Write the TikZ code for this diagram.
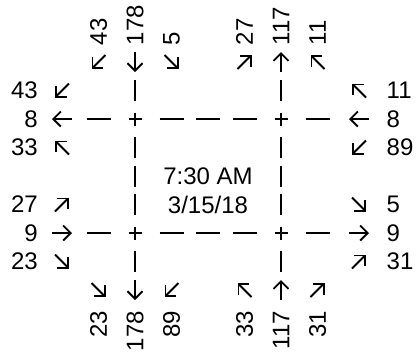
\documentclass[tikz,border=0pt]{standalone}
\usepackage{fontspec}
\setmainfont{Liberation Sans}
\usetikzlibrary{arrows.meta}
\newcommand{\turn}[4]{\draw[mv] ({#1-(#3)},{#2-(#4)}) -- ({#1+(#3)},{#2+(#4)});}

\begin{document}
\begin{tikzpicture}[x=1pt, y=-1pt,
  every node/.style={font=\fontsize{24}{28}\selectfont, inner sep=0pt},
  road/.style={line width=1.9pt},
  mv/.style={line width=1.9pt, -{Straight Barb[length=7.5pt, width=15pt]}}]
  \useasboundingbox (0,0) rectangle (416,354);
  \foreach \y in {119, 233} \foreach \x in {98.5, 171.5, 208, 244.5, 317.5}
    \draw[road] (\x-12,\y) -- (\x+12,\y);
  \foreach \x in {135, 281} \foreach \y in {90.5, 147.5, 176, 204.5, 261.5}
    \draw[road] (\x,\y-10.5) -- (\x,\y+10.5);
  \foreach \x in {135, 281} \foreach \y in {119, 233} {
    \draw[road] (\x-6.5,\y) -- (\x+6.5,\y);
    \draw[road] (\x,\y-6.5) -- (\x,\y+6.5);
  }
  \node[anchor=base] (time) at (208,184.6) {7:30 AM};
  \node[anchor=base] (date) at (208,213.1) {3/15/18};
  \node[rotate=90, anchor=west] (tl1) at (98.5,45.5) {43};
  \node[rotate=90, anchor=west] (tl2) at (135,45.5) {178};
  \node[rotate=90, anchor=west] (tl3) at (171.5,45.5) {5};
  \node[rotate=90, anchor=west] (tr1) at (244.5,45.5) {27};
  \node[rotate=90, anchor=west] (tr2) at (281,45.5) {117};
  \node[rotate=90, anchor=west] (tr3) at (317.5,45.5) {11};
  \node[rotate=90, anchor=east] (bl1) at (98.5,311) {23};
  \node[rotate=90, anchor=east] (bl2) at (135,311) {178};
  \node[rotate=90, anchor=east] (bl3) at (171.5,311) {89};
  \node[rotate=90, anchor=east] (br1) at (244.5,311) {33};
  \node[rotate=90, anchor=east] (br2) at (281,311) {117};
  \node[rotate=90, anchor=east] (br3) at (317.5,311) {31};
  \node[anchor=east] (lt1) at (38,90.5) {43};
  \node[anchor=east] (lt2) at (38,119) {8};
  \node[anchor=east] (lt3) at (38,147.5) {33};
  \node[anchor=east] (lb1) at (38,204.5) {27};
  \node[anchor=east] (lb2) at (38,233) {9};
  \node[anchor=east] (lb3) at (38,261.5) {23};
  \node[anchor=west] (rt1) at (386.5,90.5) {11};
  \node[anchor=west] (rt2) at (386.5,119) {8};
  \node[anchor=west] (rt3) at (386.5,147.5) {89};
  \node[anchor=west] (rb1) at (386.5,204.5) {5};
  \node[anchor=west] (rb2) at (386.5,233) {9};
  \node[anchor=west] (rb3) at (386.5,261.5) {31};
  \turn{98.5}{62}{-7}{7}
  \turn{135}{62}{0}{10}
  \turn{171.5}{62}{7}{7}
  \turn{244.5}{62}{7}{-7}
  \turn{281}{62}{0}{-10}
  \turn{317.5}{62}{-7}{-7}
  \turn{98.5}{290}{7}{7}
  \turn{135}{290}{0}{10}
  \turn{171.5}{290}{-7}{7}
  \turn{244.5}{290}{-7}{-7}
  \turn{281}{290}{0}{-10}
  \turn{317.5}{290}{7}{-7}
  \turn{62}{90.5}{-7}{7}
  \turn{62}{119}{-10}{0}
  \turn{62}{147.5}{-7}{-7}
  \turn{62}{204.5}{7}{-7}
  \turn{62}{233}{10}{0}
  \turn{62}{261.5}{7}{7}
  \turn{359}{90.5}{-7}{-7}
  \turn{359}{119}{-10}{0}
  \turn{359}{147.5}{-7}{7}
  \turn{359}{204.5}{7}{7}
  \turn{359}{233}{10}{0}
  \turn{359}{261.5}{7}{-7}
\end{tikzpicture}
\end{document}
